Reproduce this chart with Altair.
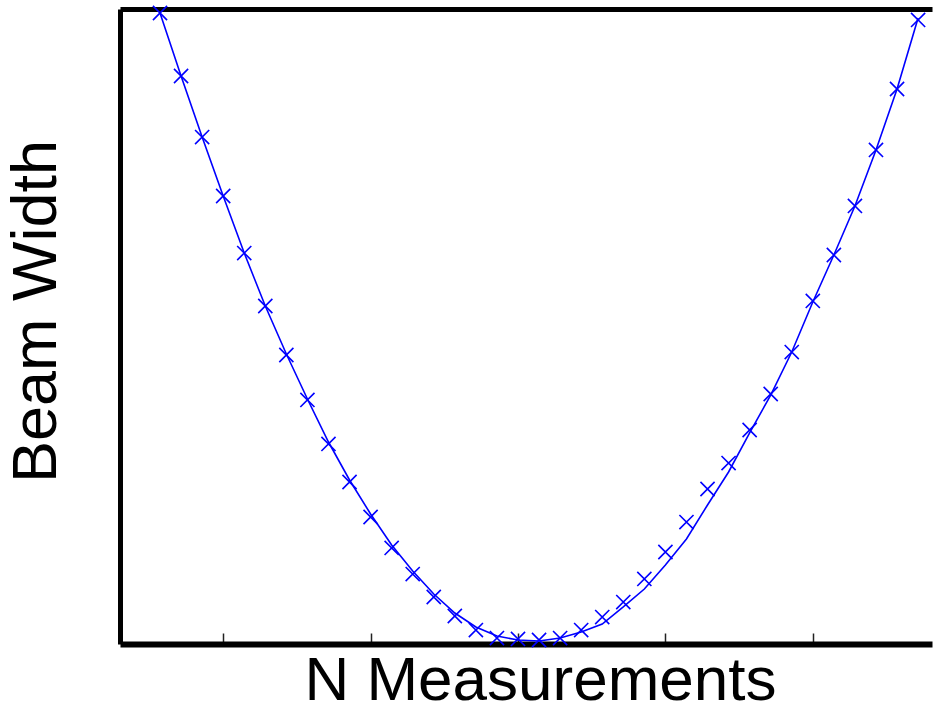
import altair as alt
import pandas as pd

# measurement index
n_index = list(range(1, 38))
# measured beam width (markers)
measured = [99.37, 89.45, 79.84, 70.55, 61.57, 53.23, 45.51, 38.43, 31.50, 25.51,
            20.00, 15.12, 11.02, 7.40, 4.41, 2.20, 0.94, 0.79, 0.63, 0.94,
            2.20, 4.25, 6.61, 10.24, 14.49, 19.21, 24.41, 28.50, 33.70, 39.37,
            45.98, 54.02, 61.26, 68.98, 77.80, 87.40, 98.27]
# fitted beam width (line)
fitted = [99.37, 89.45, 79.84, 70.55, 61.57, 53.23, 45.67, 38.58, 31.81, 25.83,
          20.47, 15.59, 11.50, 7.87, 4.88, 2.68, 1.26, 0.63, 0.47, 0.94,
          1.89, 3.15, 5.83, 8.66, 12.44, 16.54, 21.89, 27.09, 33.23, 39.21,
          45.98, 53.86, 61.26, 68.98, 77.80, 87.40, 98.58]
tick_values = [4, 11, 18, 25, 32]

df = pd.DataFrame({"n": n_index, "measured": measured, "fitted": fitted})

W, H = 812, 635
FONT = "Liberation Sans"
BLUE = "#0000ff"

xscale = alt.Scale(domain=[-0.9, 37.66], nice=False, zero=False)
yscale = alt.Scale(domain=[0, 100], nice=False, zero=False)

y_axis = alt.Axis(orient="left", domain=True, domainColor="black", domainWidth=5,
                  ticks=False, labels=False, grid=False, title="Beam Width",
                  titleFont=FONT, titleFontSize=63, titleFontWeight="normal",
                  titleColor="black", titleAngle=270, titleX=-65, titleY=302,
                  titleAlign="center", titleBaseline="alphabetic")

# bottom frame line + inward ticks + x title (top-oriented axis shifted to the bottom)
bottom_axis = alt.Axis(orient="top", offset=-H, domain=True, domainColor="black",
                       domainWidth=6, ticks=True, tickSize=11, tickWidth=1.5,
                       tickColor="#222222", values=tick_values, labels=False,
                       grid=False, title="N Measurements", titleFont=FONT,
                       titleFontSize=62, titleFontWeight="normal", titleColor="black",
                       titleX=420, titleY=55, titleAlign="center",
                       titleBaseline="alphabetic")

# top frame line (bottom-oriented axis shifted to the top)
top_axis = alt.Axis(orient="bottom", offset=-H, domain=True, domainColor="black",
                    domainWidth=5, ticks=False, labels=False, grid=False, title="")

line = alt.Chart(df).mark_line(color=BLUE, strokeWidth=1.6).encode(
    x=alt.X("n:Q", scale=xscale, axis=bottom_axis),
    y=alt.Y("fitted:Q", scale=yscale, axis=y_axis),
)

points = alt.Chart(df).mark_point(
    shape="M-1,-1L1,1M-1,1L1,-1", size=200, color=BLUE, filled=False,
    strokeWidth=1.6, opacity=1
).encode(
    x=alt.X("n:Q", scale=xscale, axis=top_axis),
    y=alt.Y("measured:Q", scale=yscale, axis=y_axis),
)

chart = alt.layer(line, points).resolve_axis(x="independent").properties(
    width=W, height=H,
    padding={"left": 120, "top": 9, "right": 1, "bottom": 68},
    autosize=alt.AutoSizeParams(type="none"),
    background="white",
).configure_view(stroke=None)

chart.save("out.html", embed_options={"renderer": "svg", "actions": False})
